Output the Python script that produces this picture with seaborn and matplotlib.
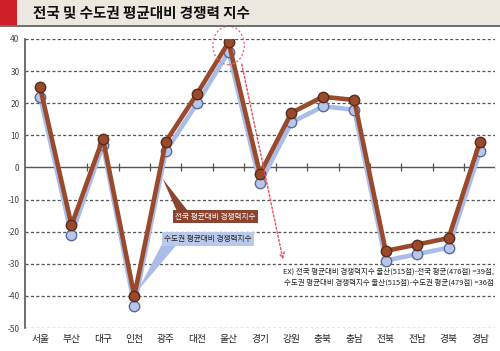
import numpy as np
import pandas as pd
import matplotlib
matplotlib.use("Agg")
import matplotlib.pyplot as plt
from matplotlib.patches import Rectangle, Ellipse, Polygon
import seaborn as sns

regions = ["서울", "부산", "대구", "인천", "광주", "대전", "울산", "경기",
           "강원", "충북", "충남", "전북", "전남", "경북", "경남"]
national = [25, -18, 9, -40, 8, 23, 39, -2, 17, 22, 21, -26, -24, -22, 8]
capital = [22, -21, 7, -43, 5, 20, 36, -5, 14, 19, 18, -29, -27, -25, 5]
yticks = list(range(-50, 41, 10))

title = "전국 및 수도권 평균대비 경쟁력 지수"
label_nat = "전국 평균대비 경쟁력지수"
label_cap = "수도권 평균대비 경쟁력지수"
note = ("EX) 전국 평균대비 경쟁력지수 울산(515점)-전국 평균(476점) =39점,\n"
        "수도권 평균대비 경쟁력지수 울산(515점)-수도권 평균(479점) =36점")

sns.set_style("white")
plt.rcParams["font.family"] = ["Noto Sans CJK KR", "DejaVu Sans"]

df = pd.DataFrame({
    "pos": list(range(len(regions))) * 2,
    "value": capital + national,
    "series": [label_cap] * len(regions) + [label_nat] * len(regions),
})

fig = plt.figure(figsize=(5.0, 3.51), dpi=100)
fig.patch.set_facecolor("white")

# header band
fig.patches.append(Rectangle((0, 0.929), 1, 0.071, transform=fig.transFigure,
                             facecolor="#ece7df", edgecolor="none"))
fig.patches.append(Rectangle((0, 0.929), 0.034, 0.071, transform=fig.transFigure,
                             facecolor="#d0202a", edgecolor="none"))
fig.lines.append(plt.Line2D([0, 1], [0.927, 0.927], transform=fig.transFigure,
                            color="#555555", lw=1.2))
fig.text(0.066, 0.963, title, fontsize=10.5, fontweight="bold", va="center",
         ha="left", color="#111111")

ax = fig.add_axes([0.05, 0.0655, 0.94, 0.8235])

for y in yticks:
    if y != 0:
        ax.axhline(y, color="#555555", lw=0.9, ls=(0, (2.5, 1.8)), zorder=0)
ax.axhline(0, color="#555555", lw=1.0, zorder=1)
ax.plot(np.arange(len(regions)) + 0.5, [0] * len(regions), ls="none",
        marker="|", ms=6, mew=0.9, color="#555555", zorder=1)

sns.lineplot(data=df[df["series"] == label_cap], x="pos", y="value", ax=ax,
             color="#a9bde8", lw=3.3, marker="o", ms=7.5,
             markerfacecolor="#b7c6ea", markeredgecolor="#5a6a9a",
             markeredgewidth=1.0, legend=False, zorder=2)
sns.lineplot(data=df[df["series"] == label_nat], x="pos", y="value", ax=ax,
             color="#9a4a2c", lw=3.3, marker="o", ms=7.5,
             markerfacecolor="#9a4a2c", markeredgecolor="#5a2a18",
             markeredgewidth=1.0, legend=False, zorder=3)

ax.set_xlim(-0.48, 14.48)
ax.set_ylim(-50, 40)
ax.set_yticks(yticks)
ax.set_yticklabels([str(y) for y in yticks], fontsize=6, color="#444444")
ax.set_xticks(range(len(regions)))
ax.set_xticklabels(regions, fontsize=7, color="#222222")
ax.tick_params(axis="both", length=0, pad=4)
ax.set_xlabel("")
ax.set_ylabel("")
for side in ["top", "right", "bottom"]:
    ax.spines[side].set_visible(False)
ax.spines["left"].set_color("#555555")
ax.spines["left"].set_linewidth(1.2)

# callout boxes
ax.add_patch(Polygon([[3.9, -3.5], [4.35, -13.5], [4.7, -13.5]], closed=True,
                     facecolor="#8a4430", edgecolor="none", zorder=4))
ax.text(4.3, -15.3, label_nat, fontsize=5.5, color="white", ha="left", va="center",
        zorder=5, bbox=dict(boxstyle="square,pad=0.35", facecolor="#8a4430",
                            edgecolor="none"))
ax.add_patch(Polygon([[3.1, -38.5], [3.9, -23.5], [4.4, -23.5]], closed=True,
                     facecolor="#a9bde8", edgecolor="none", zorder=4))
ax.text(3.95, -22.3, label_cap, fontsize=5.5, color="#222222", ha="left",
        va="center", zorder=5,
        bbox=dict(boxstyle="square,pad=0.35", facecolor="#b9c9ec", edgecolor="none"))

# highlight around Ulsan
ax.add_patch(Ellipse((6.0, 38.0), 1.0, 12.0, fill=False, edgecolor="#e8707a",
                     lw=1.0, ls=(0, (1.5, 1.5)), zorder=4, clip_on=False))
ax.annotate("", xy=(7.75, -29.5), xytext=(6.4, 33),
            arrowprops=dict(arrowstyle="->", color="#e8505a", lw=1.0,
                            ls=(0, (1.5, 1.5))), zorder=4)
ax.text(14.45, -34.0, note, fontsize=5.4, color="#222222", ha="right",
        va="center", linespacing=1.5, zorder=5)

fig.savefig("out.png", dpi=100)
